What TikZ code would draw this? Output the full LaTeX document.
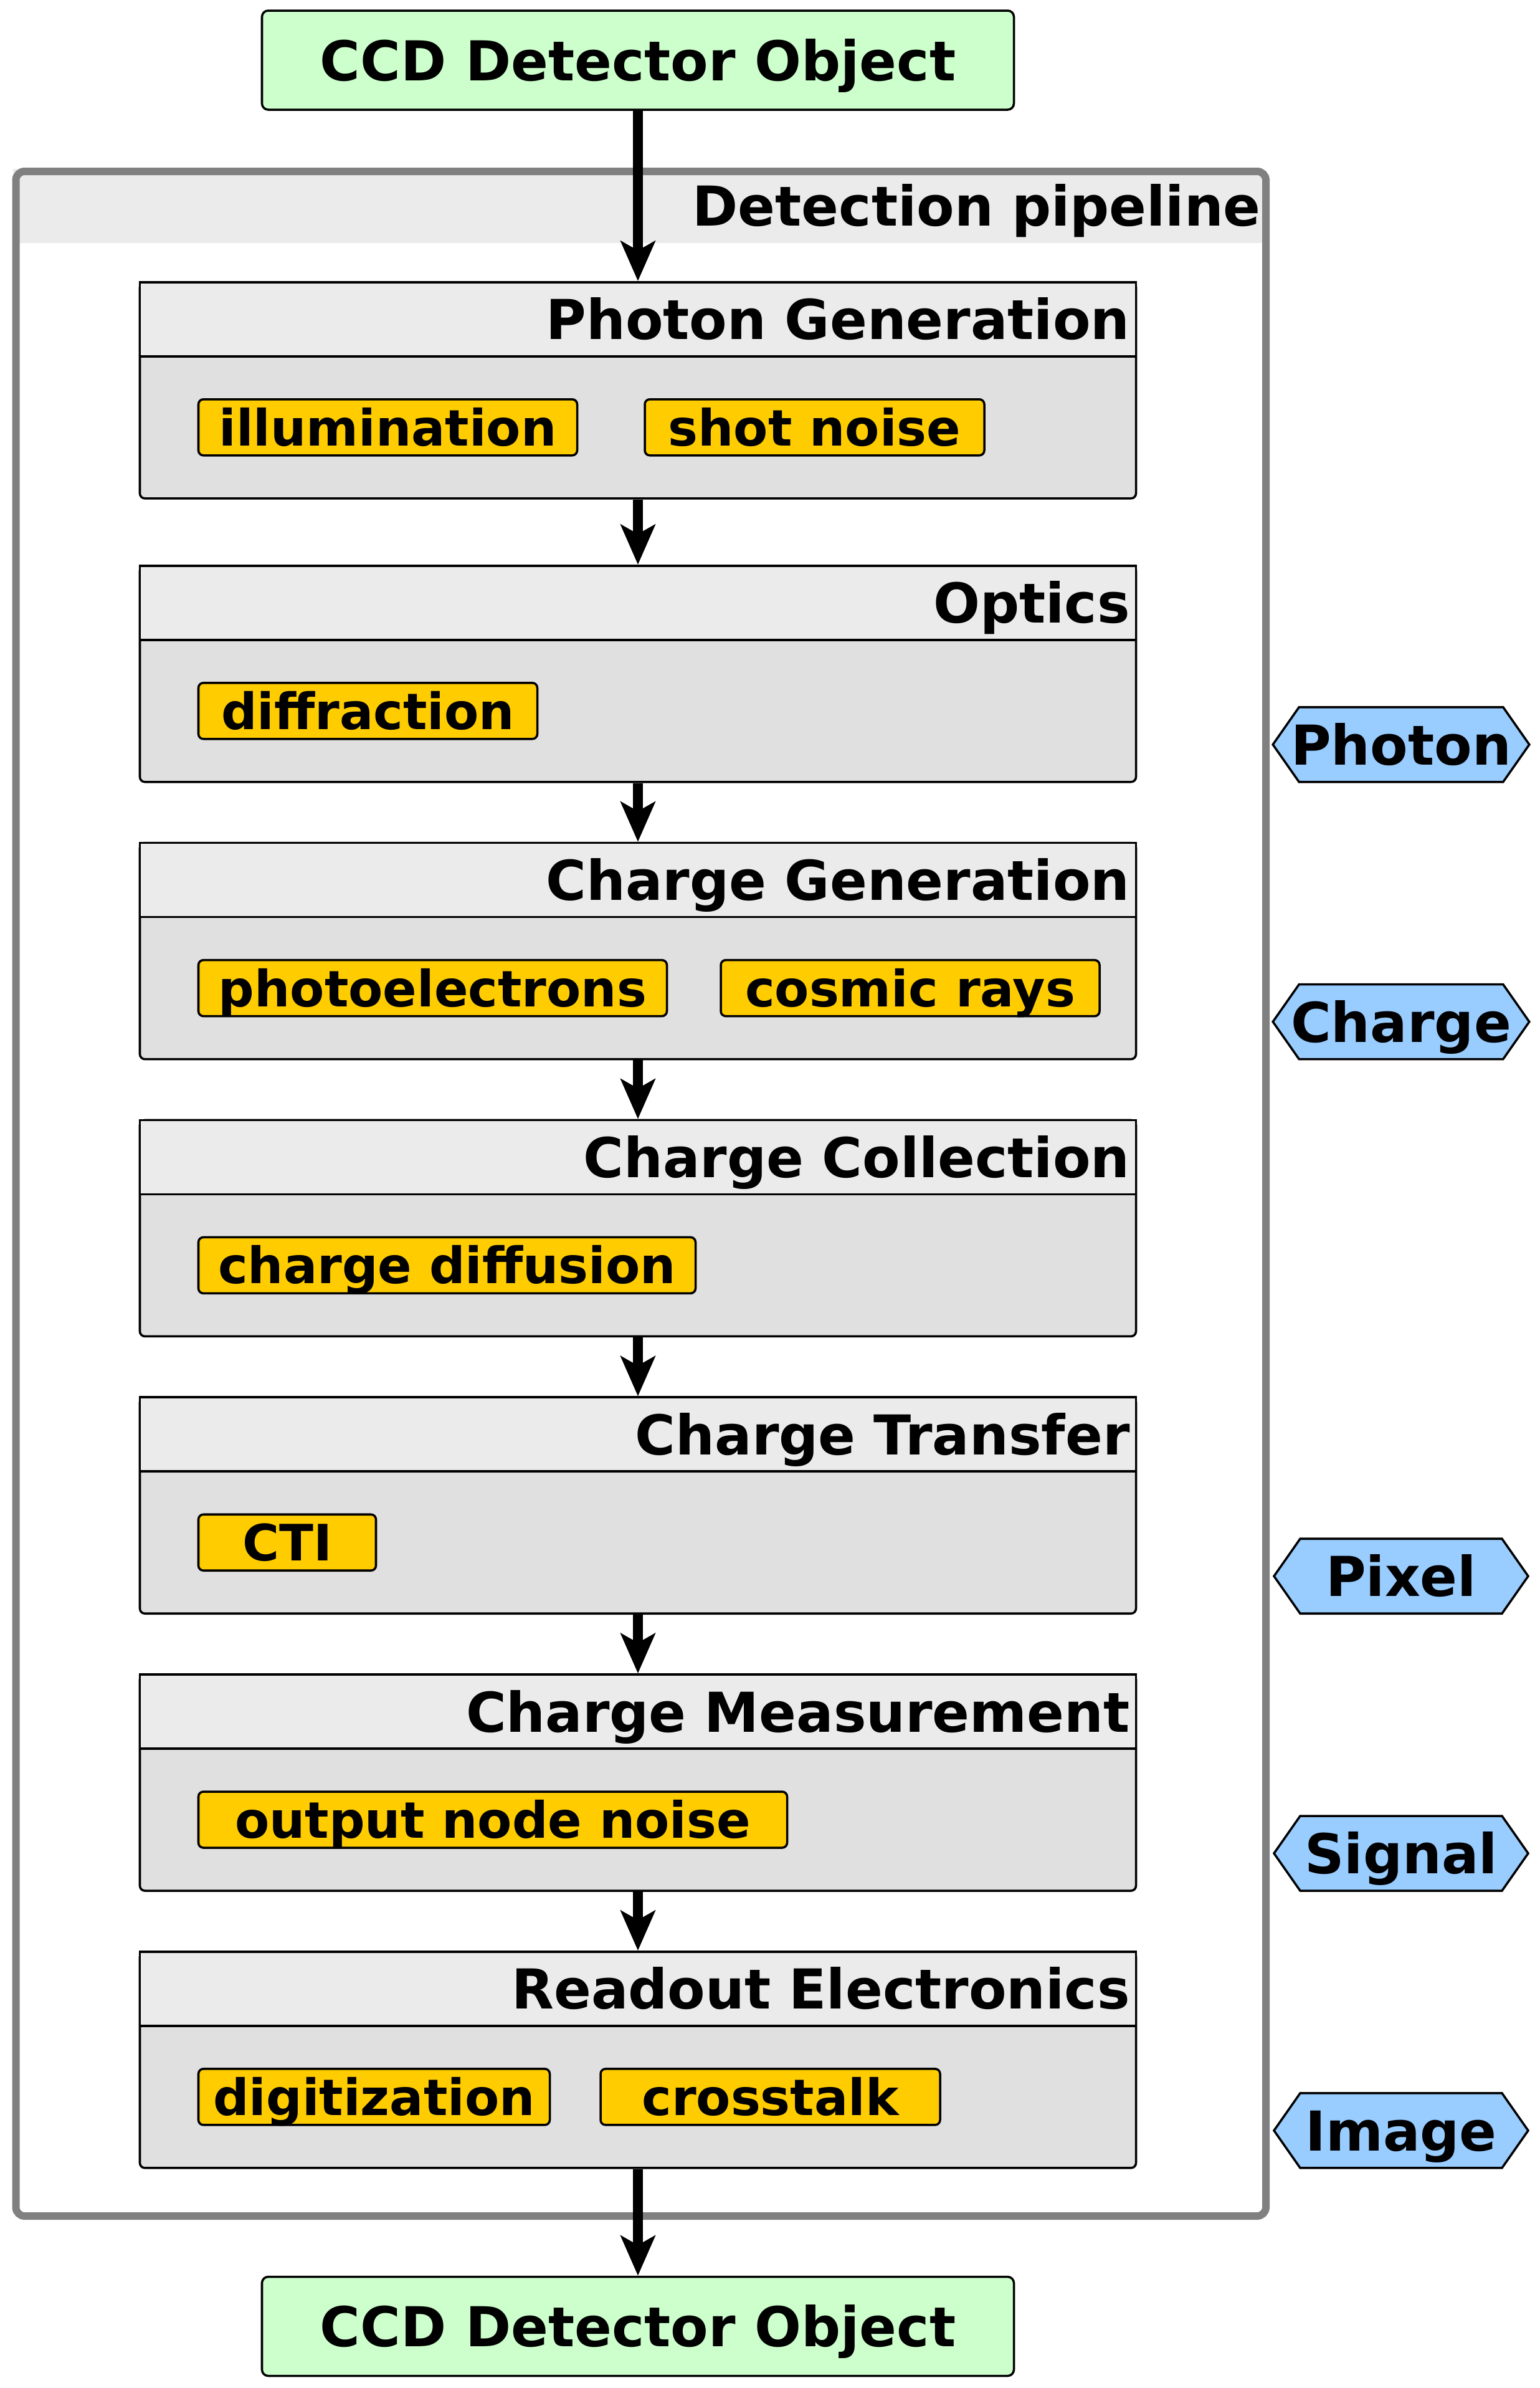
\documentclass[tikz,border=0pt]{standalone}
\usepackage{fontspec}
\setmainfont{DejaVu Sans}
\usepackage{xcolor}
\usetikzlibrary{arrows.meta,positioning,shapes.symbols}
\definecolor{objgreen}{RGB}{204,255,204}
\definecolor{headgray}{RGB}{235,235,235}
\definecolor{bodygray}{RGB}{224,224,224}
\definecolor{chipyellow}{RGB}{255,204,0}
\definecolor{hexblue}{RGB}{153,204,255}
\definecolor{framegray}{RGB}{128,128,128}
\newcommand{\stagefont}{\fontsize{25.1}{30}\selectfont\bfseries}
\newcommand{\chipfont}{\fontsize{22.9}{27}\selectfont\bfseries}

\begin{document}
\begin{tikzpicture}[>={Stealth[length=0.64cm,width=0.55cm,inset=0.15cm]},node distance=0.943cm,line width=1pt]
\tikzstyle{ccdobj}=[draw,fill=objgreen,rounded corners=0.1cm,minimum width=12.07cm,minimum height=1.59cm,text height=0.65cm,text depth=0pt,font=\stagefont]
\tikzstyle{band}=[fill=headgray,minimum width=20.065cm,minimum height=1.19cm,text width=19.985cm,inner xsep=0.04cm,align=right,text height=0.65cm,text depth=0pt,font=\stagefont]
\tikzstyle{pipeframe}=[draw=framegray,line width=0.12cm,rounded corners=0.14cm,minimum width=20.065cm,minimum height=32.81cm]
\tikzstyle{stagebox}=[draw,fill=bodygray,rounded corners=0.08cm,minimum width=15.99cm,minimum height=3.47cm]
\tikzstyle{stagehead}=[draw,fill=headgray,anchor=north,minimum height=1.19cm,text width=15.79cm,inner xsep=0.1cm,align=right,text height=0.65cm,text depth=0pt,font=\stagefont]
\tikzstyle{chip}=[draw,fill=chipyellow,rounded corners=0.08cm,minimum height=0.9cm,inner xsep=0pt,text height=0.59cm,text depth=0pt,font=\chipfont]
\tikzstyle{hexlabel}=[shape=signal,signal to=west and east,signal pointer angle=110,draw,fill=hexblue,minimum width=4.08cm,minimum height=1.2cm,inner xsep=-0.13cm,inner ysep=0pt,text height=0.65cm,text depth=0pt,font=\stagefont,anchor=south]
\tikzstyle{flow}=[->,line width=0.16cm]
\useasboundingbox (0,0) rectangle (24.72,-38.32);
\node[ccdobj] (objin) at (10.24,-0.965) {CCD Detector Object};
\node[band,anchor=north west] (band) at (0.195,-2.69) {Detection pipeline};
\node[pipeframe,anchor=north west] (pipe) at (0.195,-2.69) {};
\node[stagebox,anchor=north] (pg) at (10.24,-4.51) {};
\node[stagehead] (pghead) at (pg.north) {Photon Generation};
\node[stagebox,below=1.045cm of pg] (opt) {};
\node[stagehead] (opthead) at (opt.north) {Optics};
\node[stagebox,below=of opt] (cg) {};
\node[stagehead] (cghead) at (cg.north) {Charge Generation};
\node[stagebox,below=of cg] (cc) {};
\node[stagehead] (cchead) at (cc.north) {Charge Collection};
\node[stagebox,below=of cc] (ct) {};
\node[stagehead] (cthead) at (ct.north) {Charge Transfer};
\node[stagebox,below=of ct] (cm) {};
\node[stagehead] (cmhead) at (cm.north) {Charge Measurement};
\node[stagebox,below=of cm] (ro) {};
\node[stagehead] (rohead) at (ro.north) {Readout Electronics};
\node[chip,anchor=west,minimum width=6.08cm] (illum) at ([xshift=0.94cm,yshift=-0.595cm]pg.west) {illumination};
\node[chip,right=1.05cm of illum,minimum width=5.45cm] (shot) {shot noise};
\node[chip,anchor=west,minimum width=5.44cm] (diffr) at ([xshift=0.94cm,yshift=-0.595cm]opt.west) {diffraction};
\node[chip,anchor=west,minimum width=7.52cm] (photoel) at ([xshift=0.94cm,yshift=-0.595cm]cg.west) {photoelectrons};
\node[chip,right=0.83cm of photoel,minimum width=6.08cm] (cosmic) {cosmic rays};
\node[chip,anchor=west,minimum width=7.98cm] (diffus) at ([xshift=0.94cm,yshift=-0.595cm]cc.west) {charge diffusion};
\node[chip,anchor=west,minimum width=2.85cm] (cti) at ([xshift=0.94cm,yshift=-0.595cm]ct.west) {CTI};
\node[chip,anchor=west,minimum width=9.45cm] (onnoise) at ([xshift=0.94cm,yshift=-0.595cm]cm.west) {output node noise};
\node[chip,anchor=west,minimum width=5.64cm] (digit) at ([xshift=0.94cm,yshift=-0.595cm]ro.west) {digitization};
\node[chip,right=0.78cm of digit,minimum width=5.45cm] (xtalk) {crosstalk};
\coordinate (hexcol) at (22.49,0);
\node[hexlabel] (hphoton) at (hexcol |- opt.south) {Photon};
\node[hexlabel] (hcharge) at (hexcol |- cg.south) {Charge};
\node[hexlabel] (hpixel) at (hexcol |- ct.south) {Pixel};
\node[hexlabel] (hsignal) at (hexcol |- cm.south) {Signal};
\node[hexlabel] (himage) at (hexcol |- ro.south) {Image};
\node[ccdobj] (objout) at (10.24,-37.33) {CCD Detector Object};
\draw[flow] (objin) -- (pg);
\draw[flow] (pg) -- (opt);
\draw[flow] (opt) -- (cg);
\draw[flow] (cg) -- (cc);
\draw[flow] (cc) -- (ct);
\draw[flow] (ct) -- (cm);
\draw[flow] (cm) -- (ro);
\draw[flow] (ro) -- (objout);
\end{tikzpicture}
\end{document}
